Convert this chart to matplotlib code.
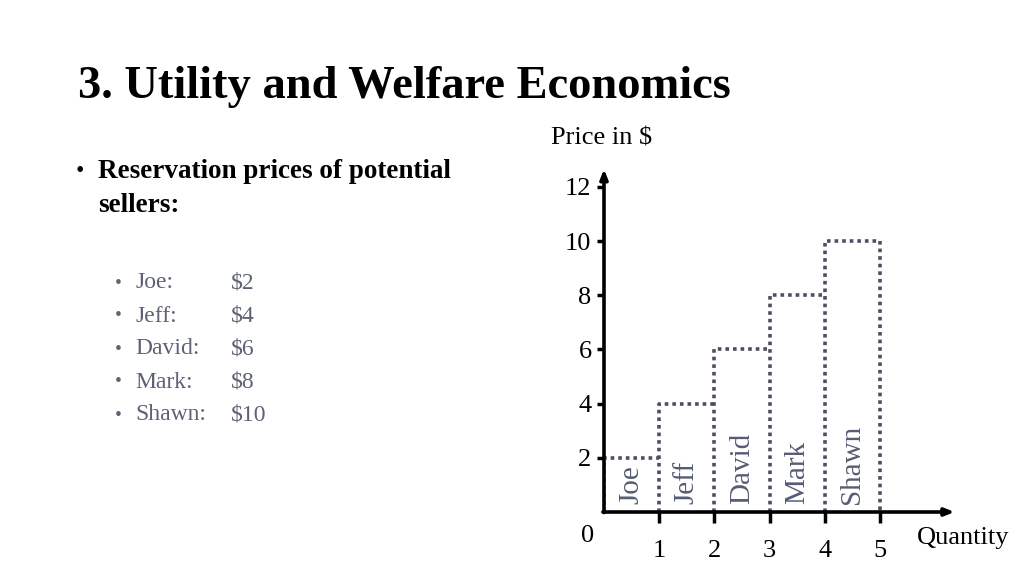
import matplotlib.pyplot as plt

# data
sellers = ["Joe", "Jeff", "David", "Mark", "Shawn"]
prices = [2, 4, 6, 8, 10]
quantity = [1, 2, 3, 4, 5]
y_ticks = [2, 4, 6, 8, 10, 12]

plt.rcParams['font.family'] = ['Liberation Serif', 'DejaVu Serif']

fig = plt.figure(figsize=(10.24, 5.76), dpi=100)
fig.patch.set_facecolor('white')

# slide text
fig.text(78 / 1024, 1 - 87 / 576, "3. Utility and Welfare Economics",
         fontsize=33.5, fontweight='bold', va='center', ha='left', color='black')
fig.text(76 / 1024, 1 - 172 / 576, "•", fontsize=17, va='center', ha='left')
fig.text(98 / 1024, 1 - 172 / 576, "Reservation prices of potential",
         fontsize=19.5, fontweight='bold', va='center', ha='left')
fig.text(98 / 1024, 1 - 205 / 576, "sellers:",
         fontsize=19.5, fontweight='bold', va='center', ha='left')

grey = '#5d6275'
for i, (name, p) in enumerate(zip(sellers, prices)):
    yy = 1 - (283 + 33 * i) / 576
    fig.text(115 / 1024, yy, "•", fontsize=14, va='center', ha='left', color=grey)
    fig.text(135 / 1024, yy, name + ":", fontsize=17, va='center', ha='left', color=grey)
    fig.text(231 / 1024, yy, "$" + str(p), fontsize=17, va='center', ha='left', color=grey)

# chart
px_x = 55.2
px_y = 27.1
xmax = 6.4
ymax = 12.7
ax = fig.add_axes([604 / 1024, 64 / 576, xmax * px_x / 1024, ymax * px_y / 576])
ax.set_xlim(0, xmax)
ax.set_ylim(0, ymax)
for s in ax.spines.values():
    s.set_visible(False)

# dotted outline of each seller's step (left edge + top), last one closed on the right
dot_color = '#4b4f62'
dots = dict(color=dot_color, linewidth=2.6, linestyle=(0, (1, 1.1)), zorder=2,
            solid_capstyle='butt')
for q, p in zip(quantity, prices):
    ax.plot([q - 1, q - 1, q], [0, p, p], **dots)
ax.plot([quantity[-1], quantity[-1]], [prices[-1], 0], **dots)

# axes with arrows
ax.annotate('', xy=(0, 12.65), xytext=(0, -0.02),
            arrowprops=dict(arrowstyle='-|>,head_width=0.22,head_length=0.55',
                            lw=2.6, color='black', shrinkA=0, shrinkB=0),
            annotation_clip=False, zorder=5)
ax.annotate('', xy=(6.35, 0), xytext=(-0.02, 0),
            arrowprops=dict(arrowstyle='-|>,head_width=0.22,head_length=0.55',
                            lw=2.6, color='black', shrinkA=0, shrinkB=0),
            annotation_clip=False, zorder=5)

ax.set_xticks(quantity)
ax.set_xticklabels([str(q) for q in quantity], fontsize=19)
ax.set_yticks(y_ticks)
ax.set_yticklabels([str(v) for v in y_ticks], fontsize=19)
ax.tick_params(axis='x', direction='out', length=8, width=2.5, pad=12, color='black')
ax.tick_params(axis='y', direction='out', length=5, width=2.5, pad=4, color='black')

for q, name in zip(quantity, sellers):
    ax.text(q - 0.5, 0.3, name, rotation=90, ha='center', va='bottom',
            fontsize=21, color='#565c74', zorder=3)

ax.text(-0.3, -0.9, "0", fontsize=19, ha='center', va='center')
ax.text(6.5, -0.95, "Quantity", fontsize=19, ha='center', va='center')
ax.text(-0.05, 13.8, "Price in $", fontsize=19, ha='center', va='center')

fig.savefig('out.png', dpi=100)
